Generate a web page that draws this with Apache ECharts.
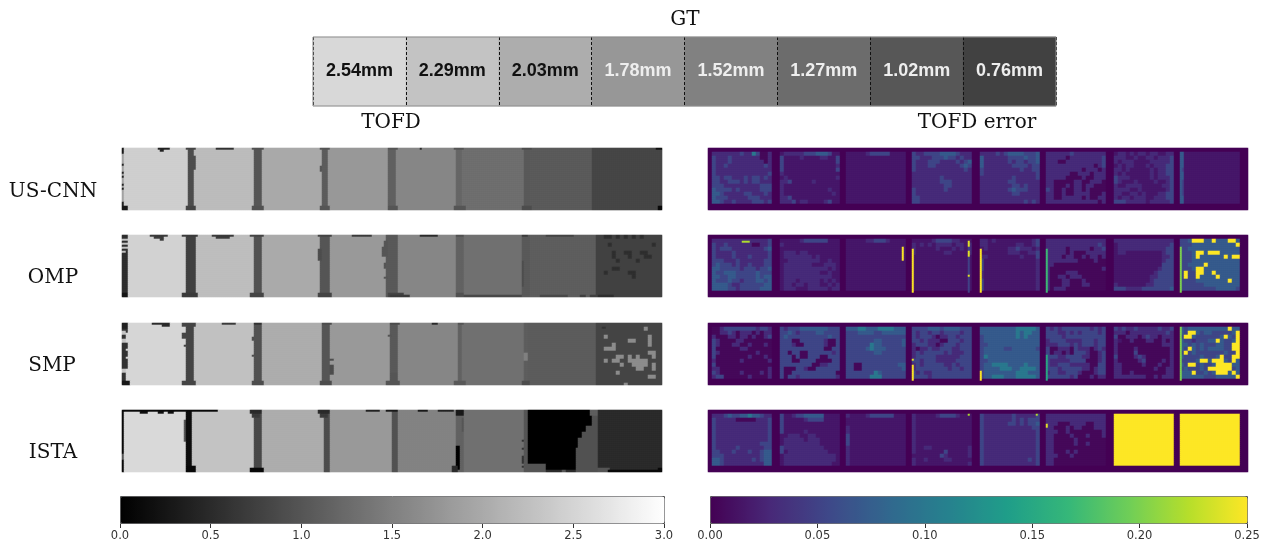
<!DOCTYPE html>
<html><head><meta charset="utf-8">
<style>html,body{margin:0;padding:0;background:#fff}#c{width:1276px;height:549px;filter:blur(0.5px)}</style>
<script src="https://cdn.jsdelivr.net/npm/echarts@6/dist/echarts.min.js"></script>
</head><body><div id="c"></div>
<script>
// ---- values ----
const gtLabels = ['2.54mm','2.29mm','2.03mm','1.78mm','1.52mm','1.27mm','1.02mm','0.76mm'];
const gtValues = [2.54,2.29,2.03,1.78,1.52,1.27,1.02,0.76];
const gtLabelColors = ['#111','#111','#111','#eee','#eee','#eee','#eee','#eee'];
const methods = ['US-CNN','OMP','SMP','ISTA'];
const tofdTicks = [0,0.5,1,1.5,2,2.5,3];

// TOFD maps: [last column, thickness] runs across the 270 columns, then [col0,col1,row0,row1,value] local defects
const tofdUSCNNRuns = [[0,1.9],[32,2.44],[35,.9],[65,2.21],[69,1.0],[99,1.99],[102,1.08],[132,1.79],[136,1.13],[166,1.58],[169,1.2],[200,1.31],[203,1.05],[234,1.07],[269,.82]];
const tofdUSCNNDefects = [[18,23,0,0,.4],[19,20,1,1,.4],[47,55,0,0,.6],[0,0,0,2,.3],[0,0,8,8,.4],[0,0,12,12,.4],[0,0,14,14,.4],[0,0,18,18,.4],[0,0,20,20,.4],[0,0,27,30,.4],[0,2,29,30,.3],[32,36,0,0,.8],[32,36,29,30,.8],[36,36,4,10,.9],[65,70,0,0,.95],[65,70,29,30,.95],[99,103,0,0,1.0],[99,103,29,30,1.0],[99,99,9,11,1.0],[133,137,0,0,1.0],[133,137,29,30,1.0],[133,133,26,28,1.1],[166,170,0,0,1.0],[166,171,29,30,1.0],[200,204,0,0,.9],[200,204,29,30,.9],[149,149,0,0,.5],[267,269,0,0,.2],[268,269,29,30,.1]];
const tofdOMPRuns = [[2,.55],[31,2.47],[36,.75],[65,2.24],[69,.95],[98,2.0],[103,1.0],[131,1.8],[137,1.05],[166,1.58],[170,1.15],[199,1.32],[203,1.05],[236,1.1],[269,.77]];
const tofdOMPDefects = [[0,2,2,2,2.3],[0,2,4,4,2.3],[0,2,6,6,2.3],[0,1,8,8,2.3],[14,22,0,0,.7],[16,20,1,1,.7],[19,20,2,2,.7],[45,55,0,0,.7],[47,53,1,1,.7],[115,124,0,0,.7],[98,99,7,12,.9],[131,132,3,5,1.0],[130,132,6,10,1.0],[131,132,21,21,1.0],[131,131,14,16,1.0],[30,37,0,0,.7],[30,37,29,30,.7],[64,70,0,0,.8],[64,70,29,30,.8],[98,104,0,0,.8],[98,104,29,30,.8],[133,140,29,30,.8],[134,143,30,30,.7],[149,157,0,0,.5],[170,199,30,30,.85],[209,222,30,30,.85],[212,225,0,0,.8],[200,200,13,25,.9],[229,231,30,30,.75],[234,236,30,30,.75],[238,245,30,30,.55],[167,170,0,0,.95],[167,170,29,30,.95],[200,202,0,0,.7],[0,2,29,30,.25]];
const tofdSMPRuns = [[1,.6],[31,2.52],[35,.8],[65,2.27],[69,.95],[99,2.03],[103,1.0],[133,1.8],[137,1.05],[167,1.58],[169,1.15],[200,1.32],[202,1.1],[236,1.08],[269,.8]];
const tofdSMPDefects = [[0,2,0,2,.4],[15,19,0,0,.5],[20,23,0,1,.5],[2,2,10,12,.6],[2,2,14,16,.6],[2,2,18,22,.6],[2,2,3,4,.6],[0,3,29,30,.3],[0,1,4,5,2.3],[0,1,8,9,2.3],[0,1,23,24,2.3],[30,36,0,1,.8],[30,31,5,7,.8],[31,31,11,11,.8],[30,36,29,30,.8],[50,56,0,0,.7],[66,69,0,0,.6],[65,70,29,30,.9],[65,65,7,8,.9],[65,65,16,16,.9],[100,104,0,0,.9],[99,104,29,30,.9],[104,105,18,18,.9],[104,105,21,25,.9],[134,138,0,0,.9],[133,134,6,6,1],[134,137,25,30,1],[132,138,29,30,1],[168,169,29,30,.9],[155,157,0,0,.5],[166,171,29,30,1.05],[201,202,15,18,1.5],[240,241,2,2,.6],[168,170,0,0,1],[200,203,29,30,.9]];
const tofdISTARuns = [[0,.1],[31,2.55],[34,.15],[65,2.29],[69,.85],[100,2.03],[103,.9],[134,1.8],[137,.95],[166,1.54],[170,1.15],[200,1.32],[202,1.0],[234,0],[237,.95],[269,.5]];
const tofdISTADefects = [[0,47,0,0,.1],[9,12,1,1,.2],[18,20,1,1,.2],[23,25,1,1,.2],[64,69,0,1,.5],[65,68,2,3,.7],[98,103,0,1,.5],[99,102,2,3,.7],[122,128,0,0,.4],[132,137,0,0,.3],[148,152,0,0,.3],[158,165,0,0,.4],[167,170,0,2,.3],[167,168,18,29,0],[165,167,28,30,.5],[170,170,4,10,1.0],[0,0,22,24,1],[31,31,5,15,1],[32,36,28,30,.1],[64,70,29,30,.1],[201,211,27,30,1.0],[212,234,30,30,.5],[220,221,30,30,1.0],[230,234,11,15,.95],[228,234,14,18,.95],[227,234,19,30,.95],[232,234,8,10,.95],[234,237,0,2,1.1],[238,243,29,30,1.0],[243,269,30,30,.1],[268,269,29,30,.1],[200,200,15,15,.6],[200,200,19,19,.6],[200,200,23,26,.6],[200,200,28,28,.6]];
// speckles of the thinnest step, in 2x2 column/row cells
const tofdOMPSpeckles = ['..xx.x.x.x.x.....','.................','...x..........x..','.................','....x..xx..xx....','....x...x...xx...','.....x....x......','.................','....xx...........','..x.....xx.......','.........x.......'];
const tofdSMPSpeckles = ['.................','............x....','.................','..x..........x...','........xx...x...','....x........x...','..xxx............','.............xx..','.....xx.x.x...x..','..x.xx..xxxxx....','......x..xxxx.x..','..........xx..x..','.....x...........','.............xx..','.................','.......x.........'];

// TOFD error maps: one text per thickness step, "base:row row ...", each row 15 cells, short rows filled with the base
const errorLevels = {a:.005,b:.016,c:.03,d:.052,e:.072,f:.1,y:.25};
const errorUSCNN = [
 'c:cccccccdccfdaac dcccdcccccccaac dcccdccccccccac dccdcccccccccdc dcccccccccccccc dcccccccccccccd ddcddcccdcddcdc ddccdddcdcddccc dddcccccccccddd eddddcdcccccddd eedcccccddcccdc edddcccccdddccc eedccdccccdddcd',
 'b:bcccccdddeeedbb dbbbbcbbbbccbbd dbbbbbbbbbbbbbd dbbbbbbbbbbbbbc dbbbbbbbbbbbbbd cbbbbbbbbbbbbbb bcbbbbbbbbbbbbc ccdbbbbbcbbbbbb cbbbbbbbbbbbbbb cbbbbbbbbbbbcbb cbbbbbbbbbbbbcb ccdbbbbbbbbbbbb cccdbccbbbbcdbb',
 'b:bbbbbcdddddbbbb',
 'c:dccddddeeeedccc ddcccdddeddcdcc dcccdddccccdcde dcccddccccccded dccccccccccccdc c cccccccd cccccccdddccccc ccccccccdd dcccccccd d dd dd',
 'c:ccccdcdeeeeddde eccccccddddedde eccccccdcddcdde ecccccccddddcdd dcccccccccdccdd dcccccccccccccd ccccccccdcccccd cccccccddcccccc ccccccccddcdccc cccccccdedddccc ccccccccdd c cccccccccccdcdc',
 'c:ccccccdcccccccc cccccaccccccccd cccaacccccccccd ccccccccccccacd cccccccccacccac ccccccaacccaccc cccccaaaacaaccc ccaaaaaccaaccca ccaaacaccaccaaa dcaacaaccacaaaa ccaacaaccccaaac ccaacccccacaacc cccccccccccccac',
 'c:bccbcbccbccbbcc cccbbcbbccbcccd cbcccbbbbcccccd bcbccbbbcbcccdd ccbcbbbbbcbccdd cbcbbbbbbcbccdd dcccbbbbbcbcccd dcbbbcbbbbcbbcd cbbccccbbbbbccd ccccbbcbbbbbbcd ccbbccbcbbbccdd cbccbcccbbcccdd dddcccccbcccccd',
 'b:e e e e d e e d d d d e e'
];
const errorOMP = [
 'c:ccccccccccccccd dccdccccccaaccd dcdddccccccccde dccccdccccccccd dccccdcccdccccd dddcccdccccccdd dedddcdccdcccdd eedddddcdddcdde eddeeedddddeddd eeddeedddddedee edddeddcdddeede eeeedccddddddee eeeeddcdddddeee',
 'b:bbbbbcddddddbbb cbb b bcccbcc bcccccccbcbbbbb bbccccccccbbcbb bcccccccbbbcccb bcccccccccccbcb bcccccccccbbcbb bccccccccccccbb bcccbcccccbcbcb bccbccbcccbbcbc bcccbbbcccccbcc',
 'b:bbbbbccdddcbbbb',
 'b:bbbbbcddddccbbb cbcbcbccccbccbc cbbbbbcbbbcbcbc cbbbbbbbccbbbbc',
 'b:ccbcbbbbbbbbbcd ccbbbbbbbccbbcd bcbbbbbccdcccbc bbbbbbbcccbbccd ccbbbbbbbbcbbbd dbbbbbbbbbbbbbc dbbbbbbbbbbbbbc dbbbbbbbbbbbbbc cbbbbbbbbbbbbbc cbbbbbbbbbbbbbc dbbbbbbbbbbbbbc dbbbbbbbbbbbbbc dbbbbbbbbbbbbbc',
 'c:c cccccccccccccd cccccacccccaccd cccccacaaaccccc ccccaccaacaccac ccccccccaaaacaa ccaaaaaaaaaaaaa caaaaaaaaaaaaac caaaacccaaaaaaa caaccacccaaaaaa caaaccaaacaaaaa caaaccaaaccaaaa cacccaaaaaaaaaa',
 'c:c bcccccccccccccd bccccccccccccdd bccbbbbbbbbbcdd bbbbbbbbbbbbccd bbbbbbbbbbbbcdd bbbbbbbbbbbbddd bbbbbbbbbbbcddd bbbbbbbbbbcdddd bbbbbbbbbccdddd bbbbbbbbbcddddd cbbbbbbbccddddd dddccccddddddde',
 'e:ddeyyyeeyeeeyye dddeeeeeeeeeeey ddeeeeeeeeeeeee dddeyyeyyyeeeee dddeyeeeeeeyeyy dddeeeeeeeeeeee ddeeeeyeeeeeeee dddeyyeeeeeeeee dyddyyeeyeeeeee dyddyeeeeyeeeee ddddeeeeeeeeyee ddddddeeeeeeeee dddddddddeeeeed'
];
const errorSMP = [
 'a:aacddddddddcddc aaccdcacccacacc caaaccaccacaacd dcaaaaccaaaaaaa dcaaaccaacaaaca daaaaaaccaaaaaa dcaaaaaaaaacaaa daaaaaaaacaaaca caaaaaacaaaaaac daaaaaaaaaaaaaa ccaaaaaaaaaaaac dcaaaaacaaaacac cddaaaaaacaaaac',
 'd:dcdddeeeeeeeddd ddedcddddeedddd deddddddddddedd dddaaddddddcaad dddcaadddddcaad dddddddddddaadd ddaddaaddddddcd dddadaadddaaddd dddaaddddaaaadd ddddddddaaccddd daaaddcaadddddd daaddddddddddda daddcdddddddddc',
 'd:eeeffeeeffffeee dddeeeeddeeeeee d dddddddeeddddde ddddddfeeddddde dddddefeeeddddd dddddddeeddddd d d ddaadddddddddee ddaadddddddddde dddddddfedddddd ddddddfffdddddd',
 'd:ddddeeedeeeeddd dcddcddcddddcdd dcdddcaccddcddd ddcdcccaadddcdd cdddccacdddcddd caccdccdddccddd cdcdddddcdcccdd cdddddccccccddd ddcdddcccccdddd cdcdddddccdcddd cddddddddcddcdd dcdccdddddddddd ddddcdddddddddd',
 'e:eeeeeeeeefffffe eeeeeeeeefeffee deeeeeeeefefeee deeeeeeeeeeeeee ddeeeeeeeeeeeee deeeeeddeeeeeed deeeeeeeeeeeeee dfeeeeeeeeeeeee ddeeeeeeeeeeeee deeffffeeeefeee deeeefffeeffffe deeeeeeeefffeee deefffeeefffffe',
 'd:dcdcdddddddcdcd dddccdcdcddddcd ddddcdddddddddd cddddccccdddcdd cccdddcdcdddcdd daacccadcccacdc daccacadddcaacd dddccddddccaacd dcccccddddaaacd dccdddcccccaadd dddcdddddccacdd cddccdddcaaacdd ddddddcdaaacacc',
 'c:dcdccdcccccdccd cccacccccccccdc daacccacdccaccc cbaacaaaccaacac caaaaaaaaaaaccc caaaacaaaaaaaac caaaadaaaaaaaac daaaacdcaaaaaac caaaaacdaaaacac ccaaaaacaaacaac ccaaaaaaaacaacc ccaacaaaaaaaacc ccccccccaacaccc',
 'd:edeeeeeeeeeeyee edyyedeedddddey dyyeddddddeyedy eddcdddeeyeddey eedededddeeddyy edyededeeeeddyy dydedddddddeddy eddddedddeyddyy ddddeyyeyyyedye edyydeddeyyyyee dedddedyyyyyyde eeeyddedeyyyeye eeeeeedddeeeeey'
];
const errorISTA = [
 'c:cccdeddeefeedcc dcccccaaaaacccd dcccccccccccccd dcccccccccccccd dcccccccccccccd dcccccccccccccd dcccccccccccccd dcccccccccccddd dcccccdccccccdd ddcccdcccdccdee dddcccccccccdee eedcccccccdcdee eedccccccccccee',
 'b:dbbcddeeeeebbbb dbbbbbcddddbbbb dbbbbbbbbbbbbbb dbbbbbbbbbbbbbb dbbbbbcbbbbbbbb bbcccbbccbbbbbb bcccccbcccbbbbb bcccccccccbbbbb dccccccccccbbbb dbccccccccccbbb bcccccccccccccb bcccccccccccccb bccccccccccccbb',
 'b:cbbbbcddddddbbb b b c c dbbbbbbbbbbbbbb dbbbbbbbbbbbbbb dbbbbbbbbbbbbbb c c c c c',
 'b:cbbbbbcddddcbbb c c c c c c c cbbccbbbbbbbbbc cbbbbbbbdbbbbbc bbbbbbbdcbbbbbc cbbcbbbbccbbbbb cbbbbbbbbbbbbbc',
 'c:dcccccccdcccccd dcccccccdcdcddd dccccccddcdcdde dccccccccccccdd dcccccccccccccd dcccccccccccccd dcccccccccccccd dcccccccccccccd dcccccccccccccd dcccccccccccccd dcccccccccccccd dcccccccccccdcd dcccccccccccccd',
 'c:c c cccaaaccccaaccc ccaaacaccaaaccc cccaacaaaaaaaac ccaaaacaaacaaac ccaaaaacaaaaaaa ccaaaaacaacaaaa ccaaaaaaaaaaaaa ccaaacacaaaaaaa cccaaacaaaaaaaa ccaaaaaaaaaaaaa ccaaaaaaaaaaaaa',
 'y:y',
 'y:y'
];
// thin lines of the error maps: [col0,col1,row0,row1,value]
const errorUSCNNLines = [[236,236,2,27,.07]];
const errorOMPLines = [[97,97,6,12,.25],[102,102,7,28,.25],[130,130,3,28,.05],[130,130,3,5,.24],[130,130,8,10,.24],[130,130,20,20,.24],[136,136,7,28,.25],[169,169,7,28,.17],[236,236,6,28,.2],[17,20,3,3,.22]];
const errorSMPLines = [[102,102,18,18,.24],[102,102,21,24,.25],[102,102,25,28,.25],[136,136,24,28,.25],[169,169,16,28,.15],[236,236,2,28,.2]];
const errorISTALines = [[130,130,2,2,.22],[164,164,2,2,.22],[169,169,7,8,.24]];
const blockStarts = [2,36,69,102,136,169,203,236];

// ---- building the cell tables ----
const COLS = 270, ROWS = 31;
const colNames = Array.from({length:COLS},(_,i)=>i), rowNames = Array.from({length:ROWS},(_,i)=>i);
function applyPatches(m,list){ list.forEach(([c0,c1,r0,r1,v])=>{for(let r=r0;r<=r1;r++)for(let c=c0;c<=c1;c++)m[r][c]=v;}); }
function toCells(m){ const out=[]; m.forEach((row,r)=>row.forEach((v,c)=>out.push([c,r,v]))); return out; }
function tofdCells(runs,defects,speckles,specV){
  const line=[]; let c=0; runs.forEach(([end,v])=>{for(;c<=end;c++)line[c]=v;});
  const m=rowNames.map(()=>line.slice());
  applyPatches(m,defects);
  if(speckles) speckles.forEach((s,r)=>[...s].forEach((ch,i)=>{ if(ch==='x') applyPatches(m,[[237+i*2,Math.min(238+i*2,COLS-1),r*2,Math.min(r*2+1,ROWS-1),specV]]); }));
  return toCells(m);
}
function errorCells(blocks,lines){
  const m=rowNames.map(()=>colNames.map(()=>0));
  blocks.forEach((txt,b)=>{
    const base=txt[0], rows=txt.slice(2).split(' ');
    for(let r=0;r<13;r++){ const s=rows[r]||''; for(let i=0;i<15;i++){
      const v=errorLevels[s[i]||base];
      applyPatches(m,[[blockStarts[b]+i*2,blockStarts[b]+i*2+1,2+r*2,3+r*2,v]]);
    }}
  });
  applyPatches(m,lines);
  return toCells(m);
}
const tofdData = [
  tofdCells(tofdUSCNNRuns,tofdUSCNNDefects),
  tofdCells(tofdOMPRuns,tofdOMPDefects,tofdOMPSpeckles,.55),
  tofdCells(tofdSMPRuns,tofdSMPDefects,tofdSMPSpeckles,1.65),
  tofdCells(tofdISTARuns,tofdISTADefects)
];
const errorData = [
  errorCells(errorUSCNN,errorUSCNNLines),errorCells(errorOMP,errorOMPLines),
  errorCells(errorSMP,errorSMPLines),errorCells(errorISTA,errorISTALines)
];
const viridis = ['#440154','#482878','#3e4989','#31688e','#26828e','#1f9e89','#35b779','#6ece58','#b5de2b','#fde725'];
const rowTops = [148,235,323,410];
const serif = 'DejaVu Serif';
const grids=[],xAxes=[],yAxes=[],series=[];
function addMap(left,top,data){
  const i=grids.length;
  grids.push({left,top,width:540,height:62});
  xAxes.push({type:'category',gridIndex:i,data:colNames,show:false});
  yAxes.push({type:'category',gridIndex:i,data:rowNames,show:false,inverse:true});
  series.push({type:'heatmap',xAxisIndex:i,yAxisIndex:i,data,progressive:0,silent:true,emphasis:{disabled:true}});
  return series.length-1;
}
const leftIdx=[],rightIdx=[];
rowTops.forEach((t,k)=>{ leftIdx.push(addMap(122,t,tofdData[k])); });
rowTops.forEach((t,k)=>{ rightIdx.push(addMap(708,t,errorData[k])); });
// GT strip
const gi=grids.length;
grids.push({left:313,top:37,width:743,height:69,show:true,borderColor:'#8c8c8c',borderWidth:1,z:6,backgroundColor:'transparent'});
xAxes.push({type:'category',gridIndex:gi,data:gtLabels,z:5,axisLine:{show:false},axisTick:{show:false},axisLabel:{show:false},
  splitLine:{show:true,lineStyle:{color:'#111',type:[3,2],width:1}}});
yAxes.push({type:'category',gridIndex:gi,data:['GT'],show:false});
leftIdx.push(series.length);
series.push({type:'heatmap',xAxisIndex:gi,yAxisIndex:gi,silent:true,emphasis:{disabled:true},
  data:gtValues.map((v,i)=>({value:[i,0,v],label:{color:gtLabelColors[i]}})),
  label:{show:true,formatter:p=>gtLabels[p.value[0]],fontFamily:'Liberation Sans',fontWeight:'bold',fontSize:18}});
// colour-bar axes
function addBarAxis(left,width,max,interval,digits){
  const i=grids.length;
  grids.push({left,top:523,width,height:1});
  xAxes.push({type:'value',gridIndex:i,min:0,max,interval,
    axisLine:{show:false},splitLine:{show:false},axisTick:{show:true,length:4,lineStyle:{color:'#333'}},
    axisLabel:{show:true,margin:6,color:'#333',fontFamily:'DejaVu Sans',fontSize:11.5,formatter:v=>v.toFixed(digits),hideOverlap:false}});
  yAxes.push({type:'value',gridIndex:i,show:false});
}
addBarAxis(120,544,tofdTicks[tofdTicks.length-1],tofdTicks[1],1);
addBarAxis(710,537,0.25,0.05,2);
const texts=[['GT',685,20],['TOFD',391,123],['TOFD error',977,123],[methods[0],53,192],[methods[1],53,278],[methods[2],52,366],[methods[3],53,453]];
const chart=echarts.init(document.getElementById('c'),null,{renderer:'canvas'});
chart.setOption({
  animation:false,backgroundColor:'#fff',
  grid:grids,xAxis:xAxes,yAxis:yAxes,series,
  visualMap:[
    {type:'continuous',seriesIndex:leftIdx,min:0,max:3,orient:'horizontal',left:120,top:496,itemWidth:27,itemHeight:544,padding:0,text:null,calculable:false,hoverLink:false,
      inRange:{color:['#000000','#ffffff']},borderColor:'#555',borderWidth:1,textStyle:{fontSize:0}},
    {type:'continuous',seriesIndex:rightIdx,min:0,max:.25,orient:'horizontal',left:710,top:496,itemWidth:27,itemHeight:537,padding:0,text:null,calculable:false,hoverLink:false,
      inRange:{color:viridis},borderColor:'#555',borderWidth:1,textStyle:{fontSize:0}}
  ],
  graphic:texts.map(([t,x,y])=>({type:'text',x,y,silent:true,style:{text:t,fill:'#111',font:'20px "'+serif+'"',textAlign:'center',textVerticalAlign:'middle'}}))
});
</script></body></html>
